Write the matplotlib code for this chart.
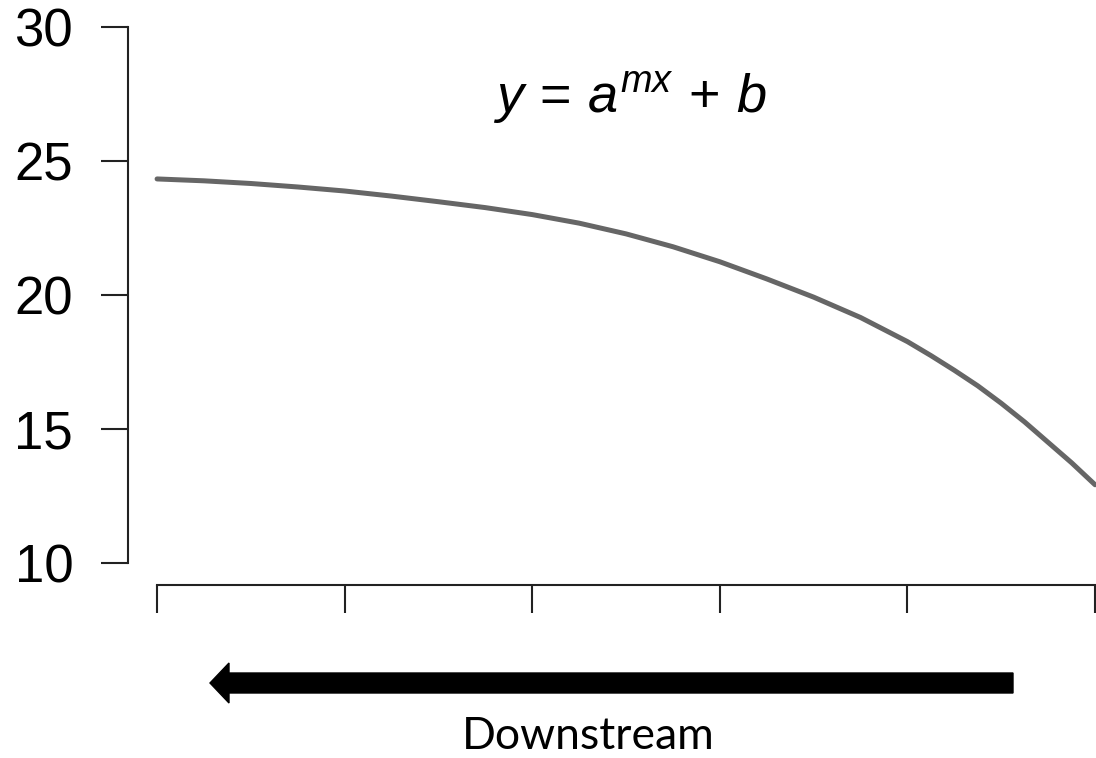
import numpy as np
import matplotlib.pyplot as plt
from matplotlib.patches import FancyArrow

# curve
dist = [0, 0.25, 0.5, 0.75, 1, 1.25, 1.5, 1.75, 2, 2.25, 2.5, 2.75,
        3, 3.25, 3.5, 3.75, 4, 4.125, 4.25, 4.375, 4.5, 4.625, 4.75, 4.875, 5]
value = [24.33, 24.26, 24.16, 24.03, 23.88, 23.69, 23.48, 23.26, 23.0, 22.68,
         22.28, 21.8, 21.24, 20.6, 19.92, 19.16, 18.26, 17.74, 17.19, 16.61,
         15.96, 15.26, 14.5, 13.74, 12.92]
yticks = [10, 15, 20, 25, 30]
xticks = [0, 1, 2, 3, 4, 5]
formula = r'$y\,=\,a^{mx}\,+\,b$'
arrow_text = 'Downstream'

plt.rcParams['mathtext.fontset'] = 'custom'
plt.rcParams['mathtext.rm'] = 'Liberation Sans'
plt.rcParams['mathtext.it'] = 'Liberation Sans:italic'

fig = plt.figure(figsize=(10.96, 7.58), dpi=100)
ax = fig.add_axes([128/1096, 1 - 585/758, 968/1096, 565/758])

ax.plot(dist, value, color='#666666', lw=3.6, solid_capstyle='round',
        solid_joinstyle='round', clip_on=False)

ax.set_xlim(-0.155, 5.005)
ax.set_ylim(9.18, 30.26)
ax.set_xticks(xticks)
ax.set_xticklabels([])
ax.set_yticks(yticks)
ax.set_yticklabels([str(t) for t in yticks], fontfamily='Liberation Sans', fontsize=38)

for s in ['top', 'right']:
    ax.spines[s].set_visible(False)
ax.spines['left'].set_bounds(10, 30)
ax.spines['bottom'].set_bounds(0, 5)
for s in ['left', 'bottom']:
    ax.spines[s].set_linewidth(1.5)
    ax.spines[s].set_color('#222222')
ax.tick_params(axis='y', length=19.5, width=1.5, color='#222222', pad=20)
ax.tick_params(axis='x', length=20, width=1.5, color='#222222')

ax.text(2.52, 26.79, formula, fontsize=39, ha='center', va='baseline')

# arrow under the axis, in inches
arr = FancyArrow(10.13, 0.75, -8.03, 0, width=0.20, head_width=0.40,
                 head_length=0.19, length_includes_head=True, color='black',
                 transform=fig.dpi_scale_trans)
fig.add_artist(arr)
fig.text(588/1096, 1/758, arrow_text, fontfamily='Lato', fontsize=32,
         ha='center', va='bottom')

fig.savefig('out.png', dpi=100)
